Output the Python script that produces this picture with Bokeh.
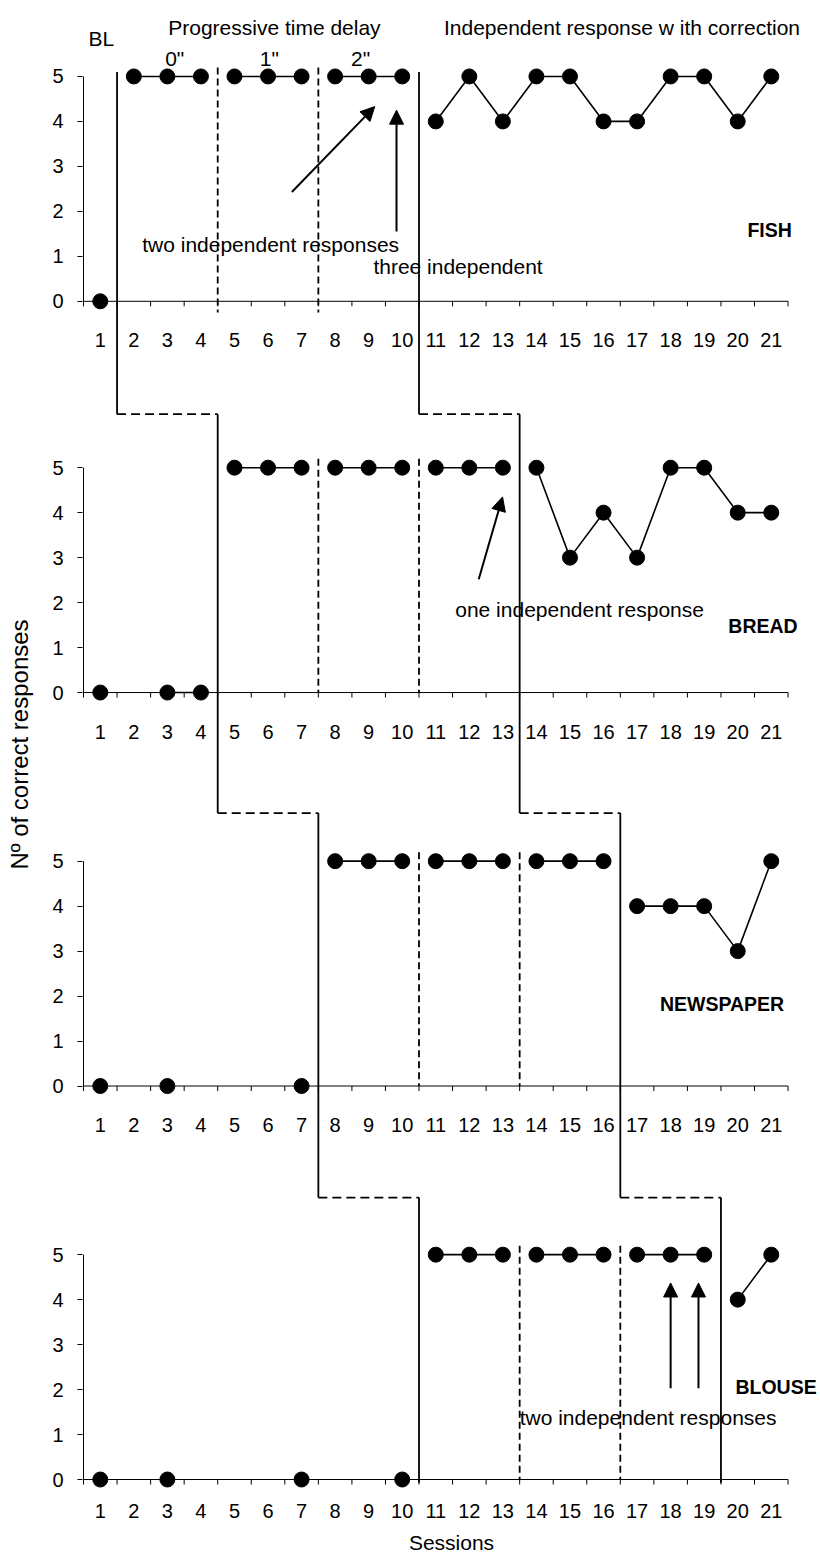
import numpy as np
from bokeh.plotting import figure
from bokeh.models import Range1d, FixedTicker, Arrow, NormalHead
from bokeh.core.properties import value
from bokeh.embed import file_html
from bokeh.resources import INLINE

# ---------------- data ----------------
sessions = list(range(1, 22))
items = ["FISH", "BREAD", "NEWSPAPER", "BLOUSE"]
fish = [0, 5, 5, 5, 5, 5, 5, 5, 5, 5, 4, 5, 4, 5, 5, 4, 4, 5, 5, 4, 5]
bread = [0, None, 0, 0, 5, 5, 5, 5, 5, 5, 5, 5, 5, 5, 3, 4, 3, 5, 5, 4, 4]
newspaper = [0, None, 0, None, None, None, 0, 5, 5, 5, 5, 5, 5, 5, 5, 5, 4, 4, 4, 3, 5]
blouse = [0, None, 0, None, None, None, 0, None, None, 0, 5, 5, 5, 5, 5, 5, 5, 5, 5, 4, 5]
series = [fish, bread, newspaper, blouse]

# phase boundaries per item: [BL end (solid), 0"->1" (dashed), 1"->2" (dashed), delay end (solid)]
phase_bounds = [
    [1.5, 4.5, 7.5, 10.5],
    [4.5, 7.5, 10.5, 13.5],
    [7.5, 10.5, 13.5, 16.5],
    [10.5, 13.5, 16.5, 19.5],
]
y_ticks = [0, 1, 2, 3, 4, 5]

header_text = ["BL", "Progressive time delay", '0"', '1"', '2"',
               "Independent response w ith correction"]
header_x = [0.65, 6.19, 3.22, 6.04, 8.76, 16.55]
header_y = [5.84, 6.09, 5.40, 5.40, 5.40, 6.09]
header_align = ["left", "center", "center", "center", "center", "center"]

note_text = ["two independent responses", "three independent",
             "one independent response", "two independent responses"]
note_panel = [0, 0, 1, 3]
note_x = [2.25, 9.14, 11.58, 13.5]
note_y = [1.27, 0.78, 1.85, 1.38]

item_x = [20.29, 19.72, 17.68, 19.93]
item_y = [1.59, 1.49, 1.82, 2.06]

arrow_panel = [0, 0, 1, 3, 3]
arrow_x0 = [6.71, 9.83, 12.28, 18.0, 18.83]
arrow_y0 = [2.43, 1.55, 2.52, 2.03, 2.03]
arrow_x1 = [9.18, 9.83, 12.99, 18.0, 18.83]
arrow_y1 = [4.33, 4.25, 4.35, 4.37, 4.37]

# ---------------- layout ----------------
offsets = [26.2, 17.5, 8.75, 0.0]      # vertical position of each panel's zero
connector_level = [6.19, 6.07, 6.27]   # dashed connector height above next panel's zero
px_x = 33.55                           # pixels per session
px_y = 45.0                            # pixels per response unit
FONT = "Liberation Sans"

p = figure(width=820, height=1556,
           x_range=Range1d(0.47, 0.47 + 738 / px_x),
           y_range=Range1d(-0.2, -0.2 + 1489 / px_y),
           output_backend="svg", toolbar_location=None,
           min_border_left=82, min_border_right=0,
           min_border_top=0, min_border_bottom=67)
p.grid.visible = False
p.outline_line_color = None
p.background_fill_color = "white"
p.border_fill_color = "white"

# y axis (real): ticks for every panel, labels 0..5
yt = [off + v for off in offsets for v in y_ticks]
p.yaxis.ticker = FixedTicker(ticks=yt)
p.yaxis.major_label_overrides = {off + v: str(v) for off in offsets for v in y_ticks}
p.yaxis.bounds = (offsets[-1], offsets[0] + 5)
p.yaxis.axis_line_color = None
p.yaxis.major_tick_out = 5
p.yaxis.major_tick_in = 0
p.yaxis.minor_tick_out = 0
p.yaxis.minor_tick_in = 0
p.yaxis.major_tick_line_color = "black"
p.yaxis.major_label_text_font = FONT
p.yaxis.major_label_text_font_size = "20px"
p.yaxis.major_label_text_color = "black"
p.yaxis.major_label_standoff = 14
p.yaxis.axis_label = "Nº of correct responses"
p.yaxis.axis_label_text_font = FONT
p.yaxis.axis_label_text_font_size = "24px"
p.yaxis.axis_label_text_font_style = "normal"
p.yaxis.axis_label_text_color = "black"
p.yaxis.axis_label_standoff = 16

# x axis (real): session labels of the bottom panel
p.xaxis.ticker = FixedTicker(ticks=sessions)
p.xaxis.axis_line_color = None
p.xaxis.major_tick_out = 0
p.xaxis.major_tick_in = 0
p.xaxis.minor_tick_out = 0
p.xaxis.minor_tick_in = 0
p.xaxis.major_label_text_font = FONT
p.xaxis.major_label_text_font_size = "20px"
p.xaxis.major_label_text_color = "black"
p.xaxis.major_label_standoff = 15
p.xaxis.axis_label = "Sessions"
p.xaxis.axis_label_text_font = FONT
p.xaxis.axis_label_text_font_size = "21px"
p.xaxis.axis_label_text_font_style = "normal"
p.xaxis.axis_label_text_color = "black"
p.xaxis.axis_label_standoff = 10

tick_x = [s - 0.5 for s in sessions] + [sessions[-1] + 0.5]
dash_bottom = [-0.25, 0.0, 0.0, 0.0]

for k, off in enumerate(offsets):
    # panel axis lines
    p.segment(x0=[0.5, 0.5], y0=[off, off], x1=[21.5, 0.5], y1=[off, off + 5],
              line_color="black", line_width=1)
    # category ticks between sessions
    p.segment(x0=tick_x, y0=[off] * len(tick_x), x1=tick_x,
              y1=[off - 5 / px_y] * len(tick_x), line_color="black", line_width=1)
    # session labels for the upper panels
    if k < len(offsets) - 1:
        p.text(x=sessions, y=[off] * len(sessions), text=[str(s) for s in sessions],
               y_offset=39, text_align="center", text_baseline="alphabetic",
               text_font=value(FONT), text_font_size="20px", text_color="black")

    # in-panel dashed phase lines
    b = phase_bounds[k]
    p.segment(x0=[b[1], b[2]], y0=[off + 5.2] * 2, x1=[b[1], b[2]],
              y1=[off + dash_bottom[k]] * 2, line_color="black", line_width=1.8,
              line_dash="7 4")

    # data lines (broken at phase changes and gaps)
    vals = series[k]
    edges = [0.5] + b + [21.5]
    for a, c in zip(edges[:-1], edges[1:]):
        xs = [s for s in sessions if a < s < c]
        ys = [off + vals[s - 1] if vals[s - 1] is not None else np.nan for s in xs]
        if len(xs) > 1:
            p.line(xs, ys, line_color="black", line_width=1.6)
    px = [s for s in sessions if vals[s - 1] is not None]
    py = [off + vals[s - 1] for s in px]
    p.scatter(px, py, size=15, fill_color="black", line_color="black")

# solid phase-change lines running through all panels, with dashed steps
for j in (0, 3):
    xs = [phase_bounds[k][j] for k in range(4)]
    vx0, vy0, vx1, vy1 = [], [], [], []
    hx0, hy0, hx1, hy1 = [], [], [], []
    top = offsets[0] + 5.1
    for k in range(4):
        if k < 3:
            bottom = offsets[k + 1] + connector_level[k]
        else:
            bottom = offsets[3] - 0.07
        vx0.append(xs[k]); vy0.append(top); vx1.append(xs[k]); vy1.append(bottom)
        if k < 3:
            hx0.append(xs[k]); hy0.append(bottom); hx1.append(xs[k + 1]); hy1.append(bottom)
        top = bottom
    p.segment(x0=vx0, y0=vy0, x1=vx1, y1=vy1, line_color="black", line_width=1.8)
    p.segment(x0=hx0, y0=hy0, x1=hx1, y1=hy1, line_color="black", line_width=1.8,
              line_dash="9 5")

# header texts
for t, x, y, al in zip(header_text, header_x, header_y, header_align):
    p.text(x=[x], y=[offsets[0] + y], text=[t], text_align=al, text_baseline="alphabetic",
           text_font=value(FONT), text_font_size="21px", text_color="black")

# annotation texts
p.text(x=note_x, y=[offsets[k] + y for k, y in zip(note_panel, note_y)], text=note_text,
       text_align="left", text_baseline="alphabetic", text_font=value(FONT),
       text_font_size="21px", text_color="black")

# item names
p.text(x=item_x, y=[off + y for off, y in zip(offsets, item_y)], text=items,
       text_align="left", text_baseline="alphabetic", text_font=value(FONT),
       text_font_size="19.5px", text_font_style="bold", text_color="black")

# arrows
for k, x0, y0, x1, y1 in zip(arrow_panel, arrow_x0, arrow_y0, arrow_x1, arrow_y1):
    p.add_layout(Arrow(end=NormalHead(size=14, fill_color="black", line_color="black",
                                      line_width=1),
                       x_start=x0, y_start=offsets[k] + y0,
                       x_end=x1, y_end=offsets[k] + y1,
                       line_color="black", line_width=2))

open("out.html", "w").write(file_html(p, INLINE))
